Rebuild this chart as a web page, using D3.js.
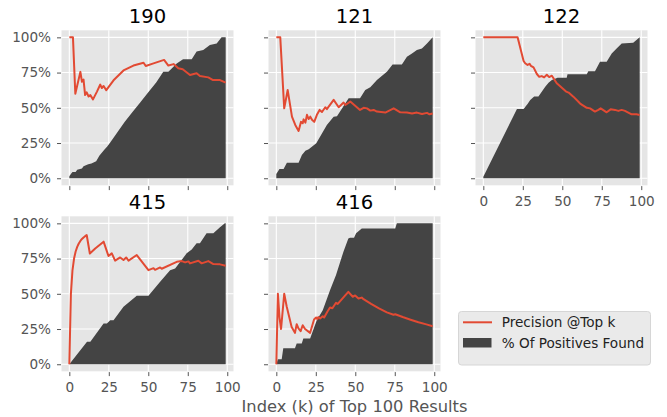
<!DOCTYPE html>
<html><head><meta charset="utf-8">
<script src="https://cdn.jsdelivr.net/npm/d3@7"></script>
<style>
html,body{margin:0;padding:0;background:#fff;}
svg{display:block;font-family:"DejaVu Sans",sans-serif;}
</style></head>
<body><svg id="chart" width="667" height="417"></svg>
<script>
// ---- data (percent values) ----
const panelTitles = ["190", "121", "122", "415", "416"];
const xTicks = [0, 25, 50, 75, 100];
const yTicks = [0, 25, 50, 75, 100];
const xLabel = "Index (k) of Top 100 Results";
const legendLabels = ["Precision @Top k", "% Of Positives Found"];

const precision190 = [[0,100],[2.3,100],[3.8,60],[7,75.5],[8,68.5],[9,70],[10,59],[11,61],[12.2,58],[13.3,59],[15,56],[17.5,61.5],[19.6,66.5],[20.6,64],[21.7,65.5],[23.4,62.5],[28,69.5],[34.3,76.5],[40.6,80],[47,82],[48.4,79.7],[53.3,81.5],[60,84],[62.7,80],[66,81],[69,78],[71.8,77.3],[76.4,73.3],[80.6,74.5],[82.7,72.6],[88,71.6],[91,69.7],[95.4,69.7],[99,67.8]];
const found190 = [[0,1.5],[1,3],[2,4.5],[4,4.5],[5,6],[8,7],[9,8.5],[12,10],[14,10.5],[17,12],[19,16],[22,20],[24,22.5],[26,25.5],[30,32],[35,40],[40,47],[45,54],[50,61],[55,68],[59.5,75.5],[62.7,75.5],[65,78],[68,81.5],[72,84.5],[77.5,84.5],[80.6,90],[84.8,91],[89,94.6],[93.3,95.7],[96.4,100],[99,100]];

const precision121 = [[0,100],[2.5,100],[5,49.6],[7.2,62.6],[9.9,43.7],[12,37.8],[14.1,33.6],[15.6,40],[16.7,39],[17.3,41.8],[18.4,39.5],[19.4,45],[20.5,42],[21.5,43.7],[22.6,41.5],[24,40],[25.7,45],[27.4,48.5],[28.9,47],[31,50.4],[32,49],[36.3,55.6],[39.5,50.4],[42.6,53.7],[43.7,52],[46.8,54.4],[53,48.5],[55.3,50],[57.4,49.6],[59.5,48],[61.6,48.5],[63.7,47.3],[69,46.6],[74.3,49.6],[78.5,46.8],[82.7,46.6],[85.9,46],[89,46.6],[92.2,45.6],[95.4,46.4],[97,45.4],[99,46]];
const found121 = [[0,3],[2,6.6],[4.6,6.6],[6.7,11],[14.1,11],[16.2,16.5],[18.4,19.6],[20.5,20.5],[25.3,24.8],[32,37.8],[36.3,43.7],[38.4,44],[45.8,56.7],[53,56.7],[56.3,62.6],[59.5,64.5],[63.7,69.7],[70,75.6],[73.6,80.8],[79.5,80.8],[82.7,86.3],[85.9,88.6],[89,91],[92.2,92],[95.4,95.7],[99,100]];

const precision122 = [[0,100],[21.7,100],[25.5,83.2],[26.5,81.6],[28,80.4],[29.3,81.2],[30.1,79.8],[31.8,78.7],[33.9,74],[35.4,72],[37,72.5],[38.5,71.6],[40.2,73.5],[41.7,71.8],[43.4,72.8],[46.5,67.4],[52.4,61.5],[54,60.8],[57,57.9],[61.3,53],[65.5,50],[67.6,49.6],[70.7,47.3],[72.8,48.5],[74.3,49.6],[78.1,46.8],[80.6,48.9],[83.4,48.5],[85.5,47.8],[87.6,48.5],[89.7,47.8],[93.9,45.4],[97,45.4],[99,44.9]];
const found122 = [[0,1],[21.3,49.2],[25.5,49.2],[28,52.7],[29.7,55.6],[32.2,58],[34.9,58],[39.2,65],[41.3,67.8],[43.4,69.7],[47,71.4],[52.8,71.4],[53.3,73.8],[65.5,73.8],[66.5,76],[70.7,76],[73.9,82.7],[78.1,82.7],[81.3,88.6],[84.4,92],[87.6,95.7],[94.9,96.2],[99,100]];

const precision415 = [[0,0],[1,50],[2,66.7],[3,75],[4,80],[5,83.3],[6,85.7],[7,87.5],[8,88.9],[9,90],[10,90.9],[11,91.7],[13,78.6],[16.4,82.2],[21.7,87],[24.8,76.8],[26.9,78.7],[29,73.5],[32.2,75.8],[34.3,74],[36,75.8],[37.5,73.5],[42.7,77.5],[50.1,66.8],[53.3,68.2],[54.3,67],[57.5,68.7],[58.5,67.8],[68,72.7],[71.2,73.2],[73.3,72.3],[75.4,73],[76.4,71.6],[81.7,73.5],[83.8,71.6],[88,73.2],[91.2,71.1],[95.4,70.9],[99,69.9]];
const found415 = [[0,0],[11.2,15.9],[13.3,15.9],[21.7,28.9],[23.8,28.9],[25.9,31.3],[28,31.3],[34.3,40.8],[42.7,48.6],[50.1,48.6],[57.5,58.5],[63.8,66.8],[67,68],[74.3,78.7],[77.5,81.5],[80.6,85.8],[82.7,85.8],[86.9,92.9],[91.2,92.9],[95.4,97.2],[98.5,100],[99,100]];

const precision416 = [[0,0],[1,50],[2,33.3],[3,25],[5,50],[6.6,40.8],[9.7,26.5],[11.8,22.3],[12.9,28.4],[14,25.4],[15.4,23.5],[16.7,27.7],[18.2,25],[21.4,22.3],[23.9,31.8],[25.2,33.2],[26,32],[26.6,33.5],[27.7,32.5],[29.4,34.1],[30.3,33.2],[32.3,37.2],[34,40.3],[35.5,39.7],[37.8,43.6],[38.9,42.8],[42.5,47.4],[45.6,51.4],[48.4,47.9],[49.9,48.8],[52,46.7],[54.1,47.3],[55.2,46.2],[60,42.8],[65,39.6],[70,36.8],[74.2,35.1],[75.3,35.5],[80,33.5],[85,31.6],[90,29.8],[95,28.3],[99,27]];
const found416 = [[0,0],[1,3.5],[3.4,3.5],[4.4,11.4],[11.8,11.4],[12.9,14.7],[16.1,14.7],[17.1,18.2],[21.4,18.2],[25.6,31.3],[29.4,38.4],[34,52.6],[37.8,63.3],[42.5,79.9],[45.6,89.3],[46.7,89.8],[49.2,89.8],[50.5,92.9],[54.1,96.4],[75.3,96.4],[76.3,100],[99,100]];

const precisionSeries = [precision190, precision121, precision122, precision415, precision416];
const foundSeries = [found190, found121, found122, found415, found416];

// ---- style / layout ----
const RED = "#E24A33", DARK = "#444444", BG = "#E5E5E5", TICK = "#555555";
const colLeft = [61.5, 268.5, 475.5], rowTop = [30.3, 216.3];
const W = 172, H = 155;

const svg = d3.select("#chart");

panelTitles.forEach((title, i) => {
  const col = i % 3, row = Math.floor(i / 3);
  const x = d3.scaleLinear().domain([-4.95, 103.95]).range([0, W]);
  const y = d3.scaleLinear().domain([-5, 105]).range([H, 0]);
  const g = svg.append("g").attr("transform", `translate(${colLeft[col]},${rowTop[row]})`);

  g.append("rect").attr("width", W).attr("height", H).attr("fill", BG);

  // grid
  g.selectAll(".gx").data(xTicks).enter().append("line")
    .attr("x1", d => x(d)).attr("x2", d => x(d)).attr("y1", 0).attr("y2", H)
    .attr("stroke", "#fff").attr("stroke-width", 1.1);
  g.selectAll(".gy").data(yTicks).enter().append("line")
    .attr("y1", d => y(d)).attr("y2", d => y(d)).attr("x1", 0).attr("x2", W)
    .attr("stroke", "#fff").attr("stroke-width", 1.1);

  // area
  const area = d3.area().x(d => x(d[0])).y0(y(0)).y1(d => y(d[1]));
  g.append("path").datum(foundSeries[i]).attr("d", area).attr("fill", DARK);

  // line
  const line = d3.line().x(d => x(d[0])).y(d => y(d[1]));
  g.append("path").datum(precisionSeries[i]).attr("d", line)
    .attr("fill", "none").attr("stroke", RED).attr("stroke-width", 2)
    .attr("stroke-linejoin", "round");

  // axes
  const showY = col === 0;
  const showX = row === 1 || col === 2;
  const yAxis = d3.axisLeft(y).tickValues(yTicks).tickSize(4).tickPadding(6)
    .tickFormat(d => showY ? d + "%" : "");
  const xAxis = d3.axisBottom(x).tickValues(xTicks).tickSize(4).tickPadding(6)
    .tickFormat(d => showX ? d : "");
  const ya = g.append("g").attr("transform", "translate(-0.5,0)").call(yAxis);
  const xa = g.append("g").attr("transform", `translate(0,${H + 0.8})`).call(xAxis);
  [ya, xa].forEach(a => {
    a.select(".domain").remove();
    a.selectAll("line").attr("stroke", TICK).attr("stroke-width", 1);
    a.selectAll("text").attr("fill", TICK).style("font-size", "13.6px")
      .style("font-family", "'DejaVu Sans', sans-serif");
  });

  // title
  g.append("text").attr("x", W / 2).attr("y", -7.5).attr("text-anchor", "middle")
    .style("font-size", "19.6px").attr("fill", "#000").text(title);

  if (i === 4) {
    g.append("text").attr("x", W / 2).attr("y", 411.7 - rowTop[row])
      .attr("text-anchor", "middle").style("font-size", "16.3px").attr("fill", TICK)
      .text(xLabel);
  }
});

// legend
const lg = svg.append("g").attr("transform", "translate(458.5,311.5)");
lg.append("rect").attr("width", 192).attr("height", 53.5).attr("rx", 3)
  .attr("fill", "#EAEAEA").attr("stroke", "#D6D6D6").attr("stroke-width", 1);
lg.append("line").attr("x1", 4.5).attr("x2", 33.5).attr("y1", 10.8).attr("y2", 10.8)
  .attr("stroke", RED).attr("stroke-width", 2);
lg.append("rect").attr("x", 4.5).attr("y", 26.5).attr("width", 28.5).attr("height", 9.5)
  .attr("fill", DARK);
legendLabels.forEach((t, j) => {
  lg.append("text").attr("x", 43.2).attr("y", 15.8 + j * 20.4)
    .style("font-size", "13.6px").attr("fill", "#222").text(t);
});
</script></body></html>
